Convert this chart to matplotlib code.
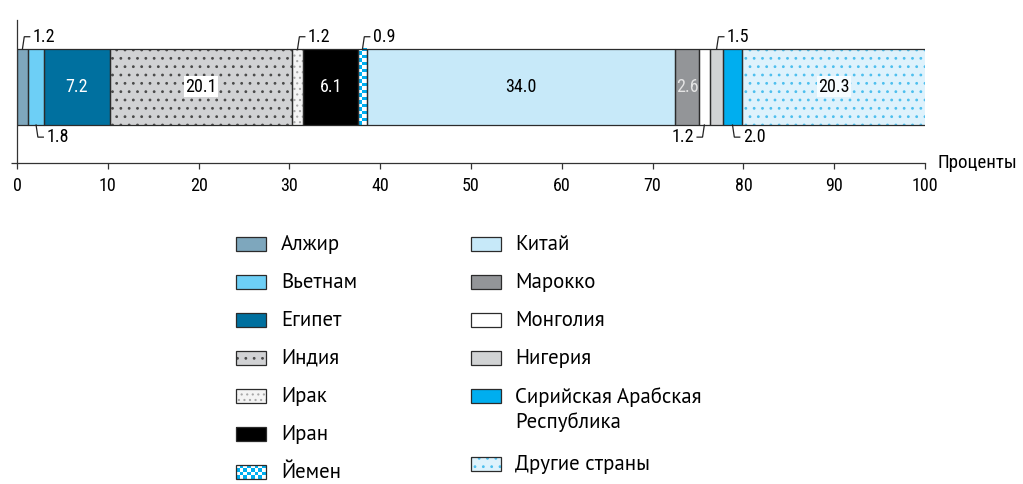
import numpy as np
import matplotlib.pyplot as plt
from matplotlib.patches import Rectangle
from matplotlib.colors import ListedColormap

# данные: доля стран, проценты
countries = ['Алжир', 'Вьетнам', 'Египет', 'Индия', 'Ирак', 'Иран', 'Йемен',
             'Китай', 'Марокко', 'Монголия', 'Нигерия',
             'Сирийская Арабская\nРеспублика', 'Другие страны']
shares = [1.2, 1.8, 7.2, 20.1, 1.2, 6.1, 0.9, 34.0, 2.6, 1.2, 1.5, 2.0, 20.3]

faces = ['#7ea7bd', '#6dcff6', '#00709f', '#d1d2d4', '#f4f4f4', '#000000', '#ffffff',
         '#c7e9f9', '#939598', '#ffffff', '#d1d3d4', '#00aeef', '#def2fc']
hatches = [None, None, None, '..', '...', None, None,
           None, None, None, None, None, '..']
hatch_cols = ['none', 'none', 'none', '#4a4a4a', '#a8a8a8', 'none', 'none',
              'none', 'none', 'none', 'none', 'none', '#4dbfee']
checker_idx = 6  # Йемен: шахматка
checker_cmap = ListedColormap(['#ffffff', '#00aeef'])

# подписи внутри сегментов: цвет текста, фон
inside = {2: ('white', None), 3: ('black', 'white'), 5: ('white', None),
          7: ('black', None), 8: ('#e4e4e4', None), 12: ('black', '#f6fcff')}
# подписи снаружи: сторона и направление выноски
outside = {0: ('top', 1), 1: ('bottom', 1), 4: ('top', 1), 6: ('top', 1),
           9: ('bottom', -1), 10: ('top', 1), 11: ('bottom', 1)}

narrow = ['Roboto Condensed', 'DejaVu Sans']
legfont = ['PT Sans', 'Noto Sans', 'DejaVu Sans']
plt.rcParams['hatch.linewidth'] = 0.8


def checker(rows, cols):
    return np.indices((rows, cols)).sum(axis=0) % 2


W, H = 1023, 484
fig = plt.figure(figsize=(W / 100, H / 100), dpi=100)
ax = fig.add_axes([17 / W, 1 - 163 / H, 908 / W, 143 / H])

lefts = np.concatenate([[0], np.cumsum(shares)[:-1]])
centers = lefts + np.array(shares) / 2

for i in range(len(shares)):
    ax.barh(0, shares[i], left=lefts[i], height=1.0, color=faces[i],
            hatch=hatches[i], edgecolor=hatch_cols[i], linewidth=0)
ci = checker_idx
ax.imshow(checker(22, 2), cmap=checker_cmap, interpolation='nearest', aspect='auto',
          extent=[lefts[ci], lefts[ci] + shares[ci], -0.5, 0.5], zorder=1.5)
ax.barh(0, shares, left=lefts, height=1.0, fill=False,
        edgecolor='#2b2b2b', linewidth=0.9, zorder=2)

for i, (tc, bg) in inside.items():
    box = None
    if bg:
        box = dict(facecolor=bg, edgecolor='none', pad=1.0)
    ax.text(centers[i], 0, f'{shares[i]:.1f}', ha='center', va='center',
            color=tc, fontsize=13, family=narrow, bbox=box, zorder=3)

for i, (side, d) in outside.items():
    y0 = 0.5 if side == 'top' else -0.5
    y1 = 0.66 if side == 'top' else -0.66
    x0 = centers[i]
    x1 = x0 + 0.2 * d
    x2 = x1 + 0.6 * d
    ax.plot([x0, x1, x2], [y0, y1, y1], color='#222222', lw=0.9,
            clip_on=False, solid_joinstyle='miter')
    ax.text(x2 + 0.35 * d, y1, f'{shares[i]:.1f}',
            ha='left' if d > 0 else 'right', va='center',
            fontsize=13, family=narrow)

ax.set_xlim(0, 100)
ax.set_ylim(-1, 0.88)
ax.set_xticks(np.arange(0, 101, 10))
ax.set_xticklabels([str(v) for v in range(0, 101, 10)], family=narrow, fontsize=13)
ax.set_yticks([-1])
ax.set_yticklabels([''])
ax.tick_params(axis='both', direction='out', length=4, width=0.9,
               color='#333333', pad=6)
for s in ['top', 'right']:
    ax.spines[s].set_visible(False)
for s in ['left', 'bottom']:
    ax.spines[s].set_color('#333333')
    ax.spines[s].set_linewidth(0.9)

ax.text(101.4, -1, 'Проценты', ha='left', va='center', fontsize=13.6,
        family=narrow, clip_on=False)

# легенда вручную, две колонки
rows1 = [244 + 38.0 * k for k in range(7)]
rows2 = [244 + 38.0 * k for k in range(5)] + [464]
slots = [(236, 281, y) for y in rows1] + [(471, 515, y) for y in rows2]

for i, (px, tx, py) in enumerate(slots):
    x = px / W
    y = 1 - (py + 7) / H
    w, h = 30 / W, 14 / H
    if i == checker_idx:
        lax = fig.add_axes([x, y, w, h])
        lax.imshow(checker(4, 8), cmap=checker_cmap, interpolation='nearest',
                   aspect='auto')
        lax.set_axis_off()
    else:
        fig.add_artist(Rectangle((x, y), w, h, transform=fig.transFigure,
                                 facecolor=faces[i], hatch=hatches[i],
                                 edgecolor=hatch_cols[i], linewidth=0))
    fig.add_artist(Rectangle((x, y), w, h, transform=fig.transFigure,
                             fill=False, edgecolor='#2b2b2b', linewidth=0.9,
                             zorder=5))
    if '\n' in countries[i]:
        fig.text(tx / W, 1 - (py + 13.5) / H, countries[i], ha='left',
                 va='center', fontsize=15, family=legfont, linespacing=1.3)
    else:
        fig.text(tx / W, 1 - py / H, countries[i], ha='left', va='center',
                 fontsize=15, family=legfont)

fig.savefig('out.png', dpi=100)
